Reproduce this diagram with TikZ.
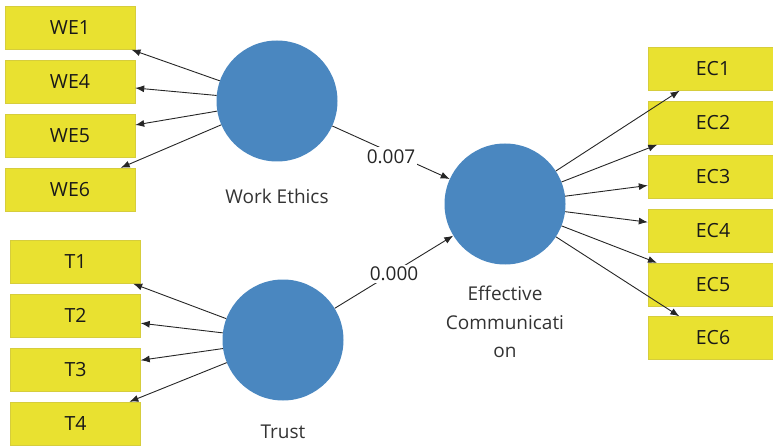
\documentclass[tikz,border=0pt]{standalone}
\usepackage{fontspec}
\setmainfont{Open Sans}
\usepackage{tikz}
\usetikzlibrary{arrows.meta}

\definecolor{itemfill}{RGB}{233,225,48}
\definecolor{itemedge}{RGB}{214,205,60}
\definecolor{lvblue}{RGB}{74,135,192}

\tikzset{
  item/.style={draw=itemedge, fill=itemfill, minimum width=130pt, minimum height=43pt,
    inner sep=0pt, text=black!90, font=\fontsize{19.5}{22}\selectfont},
  latent/.style={circle, fill=lvblue, minimum size=121pt, inner sep=0pt},
  lvname/.style={text=black!80, align=center, font=\fontsize{19}{28.5}\selectfont},
  load/.style={-{Latex[length=9pt,width=7pt]}, black!85, line width=0.9pt},
  coef/.style={fill=white, inner sep=2pt, text=black!85, font=\fontsize{19}{22}\selectfont}
}

\begin{document}
\begin{tikzpicture}[x=1pt, y=-1pt]
      \useasboundingbox (0,0) rectangle (773,446);

      \node[latent] (we) at (277,101) {};
      \node[latent] (tr) at (283,340) {};
      \node[latent] (ec) at (505,204) {};

      \node[lvname] (wename) at (277,196) {Work Ethics};
      \node[lvname] (trname) at (283,432) {Trust};
      \node[lvname] (ecname) at (505,322) {Effective\\Communicati\\on};

      \node[item] (we1) at (70,28) {WE1};
      \node[item] (we4) at (70,82) {WE4};
      \node[item] (we5) at (70,136) {WE5};
      \node[item] (we6) at (70,189.5) {WE6};

      \node[item] (t1) at (75.5,262) {T1};
      \node[item] (t2) at (75.5,315.5) {T2};
      \node[item] (t3) at (75.5,369.5) {T3};
      \node[item] (t4) at (75.5,423.5) {T4};

      \foreach \i/\y in {1/69,2/123,3/177,4/230.5,5/284.5,6/338}
        \node[item] (ec\i) at (713,\y) {EC\i};

      \foreach \k in {1,4,5,6}
        \draw[load] (we) -- (we\k);
      \foreach \k in {1,...,4}
        \draw[load] (tr) -- (t\k);
      \foreach \k in {1,...,6}
        \draw[load] (ec) -- (ec\k);

      \draw[load] (we) -- node[coef, yshift=-4pt] {0.007} (ec);
      \draw[load] (tr) -- node[coef, yshift=-2pt] {0.000} (ec);
    \end{tikzpicture}
\end{document}
